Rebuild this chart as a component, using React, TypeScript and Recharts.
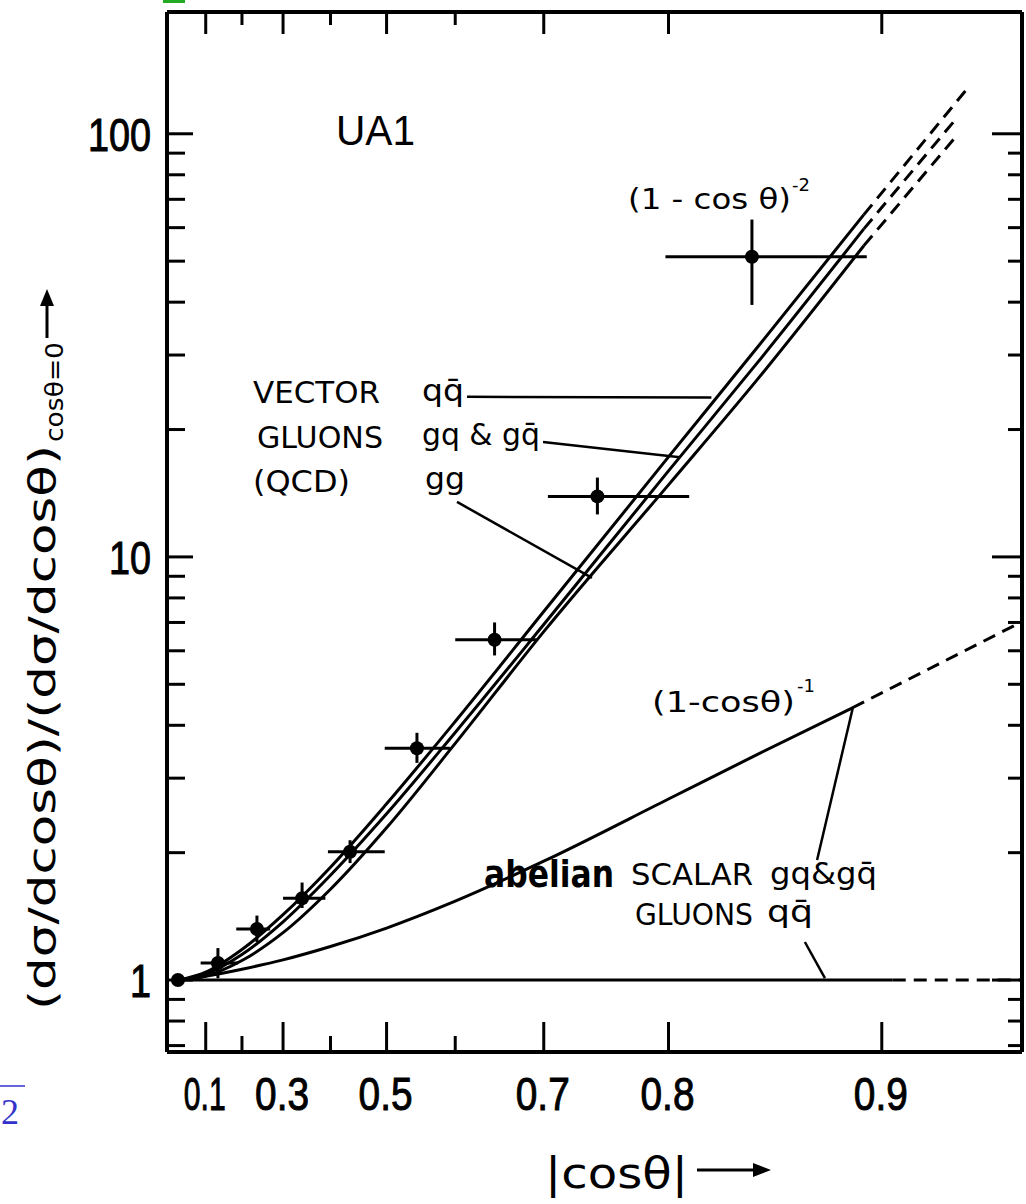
import React from "react";
import {
  ComposedChart,
  ErrorBar,
  Line,
  ReferenceLine,
  Scatter,
  XAxis,
  YAxis,
} from "recharts";

// |cos θ| axis (plotted on a log scale of 1/(1-cos θ))
const cosTicks = [0.1, 0.2, 0.3, 0.4, 0.5, 0.6, 0.7, 0.8, 0.9];
const cosTickLabels = ["0.1", "", "0.3", "", "0.5", "", "0.7", "0.8", "0.9"];
const cosDomain = [-0.0207, 0.9366];

// ratio axis
const yTicks = [0.7, 0.8, 0.9, 1, 2, 3, 4, 5, 6, 7, 8, 9, 10, 20, 30, 40, 50, 60, 70, 80, 90, 100];
const yMajor = [1, 10, 100];
const yDomain = [0.676, 194];

// vector gluons (QCD) curves
const qcdCos = [0.02, 0.1, 0.2, 0.3, 0.4, 0.5, 0.6, 0.7, 0.8, 0.85, 0.894];
const qcdQQ = [1.0, 1.044, 1.181, 1.427, 1.848, 2.609, 4.084, 7.43, 17.23, 31.2, 64.4];
const qcdGQ = [1.0, 1.033, 1.149, 1.373, 1.769, 2.471, 3.847, 6.92, 15.97, 28.7, 59.6];
const qcdGG = [1.0, 1.022, 1.112, 1.294, 1.639, 2.29, 3.624, 6.66, 14.8, 26.2, 54.4];
const qcdQQDash = [[0.894, 64.4], [0.924, 127]];
const qcdGQDash = [[0.894, 59.6], [0.922, 110]];
const qcdGGDash = [[0.894, 54.4], [0.922, 100]];

// abelian scalar gluons
const scalarCos = [0.02, 0.1, 0.2, 0.3, 0.4, 0.5, 0.6, 0.7, 0.8, 0.85, 0.89];
const scalarGQ = [1.0, 1.021, 1.061, 1.116, 1.2, 1.327, 1.536, 1.909, 2.678, 3.41, 4.4];
const scalarGQDash = [[0.89, 4.4], [0.9366, 7.03]];
const scalarQQ = [[0.02, 1.0], [0.9035, 1.0]];
const scalarQQDash = [[0.9035, 1.0], [0.9366, 1.0]];

// UA1 data
const ptCos = [0.015, 0.135, 0.238, 0.342, 0.437, 0.547, 0.648, 0.748, 0.8475];
const ptCosLo = [0.015, 0.085, 0.185, 0.3, 0.395, 0.497, 0.6, 0.704, 0.798];
const ptCosHi = [0.015, 0.19, 0.27, 0.39, 0.497, 0.593, 0.693, 0.813, 0.895];
const ptVal = [1.0, 1.097, 1.32, 1.56, 2.01, 3.53, 6.37, 13.9, 51.2];
const ptValLo = [1.0, 1.01, 1.23, 1.48, 1.89, 3.26, 5.85, 12.6, 39.4];
const ptValHi = [1.0, 1.19, 1.42, 1.7, 2.14, 3.84, 7.0, 15.4, 62.7];

const toX = (c: number) => 1 / (1 - c);
const xTicks = cosTicks.map(toX);
const xDomain = cosDomain.map(toX);

const curve = (cs: number[], vs: number[]) => cs.map((c, i) => ({ x: toX(c), y: vs[i] }));
const pairs = (p: number[][]) => p.map(([c, v]) => ({ x: toX(c), y: v }));

const points = ptCos.map((c, i) => ({
  x: toX(c),
  y: ptVal[i],
  ex: [toX(c) - toX(ptCosLo[i]), toX(ptCosHi[i]) - toX(c)],
  ey: [ptVal[i] - ptValLo[i], ptValHi[i] - ptVal[i]],
}));

const near = (a: number, b: number) => Math.abs(a - b) < 1e-6 * Math.max(1, Math.abs(b));
const SANS = "Liberation Sans, Arial, sans-serif";
const LBL = "DejaVu Sans, sans-serif";

function BottomTick(props: any) {
  const { x, y, payload } = props;
  const i = xTicks.findIndex((t) => near(t, payload.value));
  const label = cosTickLabels[i] ?? "";
  return (
    <g>
      <line x1={x} x2={x} y1={y} y2={y - (label ? 30 : 16)} stroke="#000" strokeWidth={3} />
      {label && (
        <text
          x={x - 1}
          y={y + 58}
          textAnchor="middle"
          fontFamily={SANS}
          fontSize={47}
          textLength={label === "0.1" ? 42 : 54}
          lengthAdjust="spacingAndGlyphs"
          fill="#000"
          stroke="#000"
          strokeWidth={1}
        >
          {label}
        </text>
      )}
    </g>
  );
}

function TopTick(props: any) {
  const { x, y, payload } = props;
  const i = xTicks.findIndex((t) => near(t, payload.value));
  const len = cosTickLabels[i] ? 22 : 13;
  return <line x1={x} x2={x} y1={y} y2={y + len} stroke="#000" strokeWidth={3} />;
}

function LeftTick(props: any) {
  const { x, y, payload } = props;
  const major = yMajor.some((m) => near(m, payload.value));
  const label = String(payload.value);
  return (
    <g>
      <line x1={x} x2={x + (major ? 26 : 18)} y1={y} y2={y} stroke="#000" strokeWidth={3} />
      {major && (
        <text
          x={x - 16}
          y={y + 17}
          textAnchor="end"
          fontFamily={SANS}
          fontSize={46}
          textLength={label.length * 21}
          lengthAdjust="spacingAndGlyphs"
          fill="#000"
          stroke="#000"
          strokeWidth={1}
        >
          {label}
        </text>
      )}
    </g>
  );
}

function RightTick(props: any) {
  const { x, y, payload } = props;
  const major = yMajor.some((m) => near(m, payload.value));
  return <line x1={x} x2={x - (major ? 30 : 14)} y1={y} y2={y} stroke="#000" strokeWidth={3} />;
}

const renderPoint = (p: any) => <circle cx={p.cx} cy={p.cy} r={7} fill="#000" />;

const seg = (c1: number, v1: number, c2: number, v2: number) => [
  { x: toX(c1), y: v1 },
  { x: toX(c2), y: v2 },
];

const lineStyle = { stroke: "#000", strokeWidth: 3, dot: false, isAnimationActive: false } as const;
const dash = "13 8";
const frame = { stroke: "#000", strokeWidth: 4 };

export default function App() {
  return (
    <div style={{ position: "absolute", left: 0, top: 0, width: 1026, height: 1204, background: "#fff" }}>
      <ComposedChart width={1026} height={1204} margin={{ top: 2, right: 0, bottom: 142, left: 157 }}>
        <XAxis
          dataKey="x"
          type="number"
          scale="log"
          domain={xDomain}
          allowDataOverflow
          ticks={xTicks}
          interval={0}
          height={10}
          tickSize={0}
          tickMargin={0}
          tickLine={false}
          axisLine={frame}
          tick={<BottomTick />}
        />
        <XAxis
          xAxisId="top"
          orientation="top"
          dataKey="x"
          type="number"
          scale="log"
          domain={xDomain}
          allowDataOverflow
          ticks={xTicks}
          interval={0}
          height={10}
          tickSize={0}
          tickMargin={0}
          tickLine={false}
          axisLine={frame}
          tick={<TopTick />}
        />
        <YAxis
          dataKey="y"
          type="number"
          scale="log"
          domain={yDomain}
          allowDataOverflow
          ticks={yTicks}
          interval={0}
          width={10}
          tickSize={0}
          tickMargin={0}
          tickLine={false}
          axisLine={frame}
          tick={<LeftTick />}
        />
        <YAxis
          yAxisId="right"
          orientation="right"
          dataKey="y"
          type="number"
          scale="log"
          domain={yDomain}
          allowDataOverflow
          ticks={yTicks}
          interval={0}
          width={4}
          tickSize={0}
          tickMargin={0}
          tickLine={false}
          axisLine={frame}
          tick={<RightTick />}
        />

        <Line data={curve(qcdCos, qcdQQ)} dataKey="y" type="monotone" {...lineStyle} />
        <Line data={curve(qcdCos, qcdGQ)} dataKey="y" type="monotone" {...lineStyle} />
        <Line data={curve(qcdCos, qcdGG)} dataKey="y" type="monotone" {...lineStyle} />
        <Line data={pairs(qcdQQDash)} dataKey="y" strokeDasharray={dash} {...lineStyle} />
        <Line data={pairs(qcdGQDash)} dataKey="y" strokeDasharray={dash} {...lineStyle} />
        <Line data={pairs(qcdGGDash)} dataKey="y" strokeDasharray={dash} {...lineStyle} />

        <Line data={curve(scalarCos, scalarGQ)} dataKey="y" type="monotone" {...lineStyle} />
        <Line data={pairs(scalarGQDash)} dataKey="y" strokeDasharray={dash} {...lineStyle} />
        <Line data={pairs(scalarQQ)} dataKey="y" {...lineStyle} />
        <Line data={pairs(scalarQQDash)} dataKey="y" strokeDasharray={dash} {...lineStyle} />

        {/* leader lines from the labels to the curves */}
        <ReferenceLine segment={seg(0.615, 23.9, 0.826, 23.8)} stroke="#000" strokeWidth={2.5} ifOverflow="visible" />
        <ReferenceLine segment={seg(0.6993, 18.7, 0.8073, 17.2)} stroke="#000" strokeWidth={2.5} ifOverflow="visible" />
        <ReferenceLine segment={seg(0.6023, 13.49, 0.7435, 8.92)} stroke="#000" strokeWidth={2.5} ifOverflow="visible" />
        <ReferenceLine segment={seg(0.8902, 4.42, 0.8766, 1.921)} stroke="#000" strokeWidth={2.5} ifOverflow="visible" />
        <ReferenceLine segment={seg(0.8716, 1.23, 0.8797, 1.011)} stroke="#000" strokeWidth={2.5} ifOverflow="visible" />

        <Scatter data={points} dataKey="y" shape={renderPoint} isAnimationActive={false}>
          <ErrorBar dataKey="ex" direction="x" width={0} stroke="#000" strokeWidth={3} isAnimationActive={false} />
          <ErrorBar dataKey="ey" direction="y" width={0} stroke="#000" strokeWidth={3} isAnimationActive={false} />
        </Scatter>
      </ComposedChart>

      <svg
        width={1026}
        height={1204}
        style={{ position: "absolute", left: 0, top: 0, pointerEvents: "none" }}
      >
        <rect x={163} y={0} width={22} height={3} fill="#22aa22" />
        <line x1={0} x2={25} y1={1086} y2={1086} stroke="#3333cc" strokeWidth={1.5} />
        <text x={1} y={1124} fontFamily="Liberation Serif, serif" fontSize={36} fill="#3333cc">2</text>

        <text x={336} y={145} fontFamily={SANS} fontSize={42} textLength={79} lengthAdjust="spacingAndGlyphs">UA1</text>

        <text x={628} y={209} fontFamily={LBL} fontSize={28} textLength={163} lengthAdjust="spacingAndGlyphs">(1 - cos θ)</text>
        <text x={792} y={191} fontFamily={LBL} fontSize={18}>-2</text>

        <text x={253} y={403} fontFamily={LBL} fontSize={30} textLength={127} lengthAdjust="spacingAndGlyphs">VECTOR</text>
        <text x={422} y={401} fontFamily={LBL} fontSize={31} textLength={42} lengthAdjust="spacingAndGlyphs">qq̄</text>
        <text x={257} y={448} fontFamily={LBL} fontSize={30} textLength={126} lengthAdjust="spacingAndGlyphs">GLUONS</text>
        <text x={422} y={445} fontFamily={LBL} fontSize={31} textLength={118} lengthAdjust="spacingAndGlyphs">gq &amp; gq̄</text>
        <text x={253} y={492} fontFamily={LBL} fontSize={30} textLength={97} lengthAdjust="spacingAndGlyphs">(QCD)</text>
        <text x={425} y={489} fontFamily={LBL} fontSize={31} textLength={40} lengthAdjust="spacingAndGlyphs">gg</text>

        <text x={652} y={712} fontFamily={LBL} fontSize={28} textLength={143} lengthAdjust="spacingAndGlyphs">(1-cosθ)</text>
        <text x={797} y={692} fontFamily={LBL} fontSize={18}>-1</text>

        <text x={484} y={887} fontFamily={LBL} fontWeight="bold" fontSize={38} textLength={130} lengthAdjust="spacingAndGlyphs">abelian</text>
        <text x={631} y={885} fontFamily={LBL} fontSize={30} textLength={122} lengthAdjust="spacingAndGlyphs">SCALAR</text>
        <text x={770} y={884} fontFamily={LBL} fontSize={30} textLength={107} lengthAdjust="spacingAndGlyphs">gq&amp;gq̄</text>
        <text x={635} y={925} fontFamily={LBL} fontSize={30} textLength={118} lengthAdjust="spacingAndGlyphs">GLUONS</text>
        <text x={767} y={922} fontFamily={LBL} fontSize={31} textLength={46} lengthAdjust="spacingAndGlyphs">qq̄</text>

        {/* axis titles */}
        <g transform="translate(55,1010) rotate(-90)">
          <text x={0} y={0} fontFamily={LBL} fontSize={38} textLength={565} lengthAdjust="spacingAndGlyphs">(dσ/dcosθ)/(dσ/dcosθ)</text>
          <text x={568} y={8} fontFamily={LBL} fontSize={24} textLength={100} lengthAdjust="spacingAndGlyphs">cosθ=0</text>
        </g>
        <line x1={47} x2={47} y1={338} y2={300} stroke="#000" strokeWidth={3} />
        <polygon points="47,289 40,306 54,306" fill="#000" />

        <text x={545} y={1188} fontFamily={LBL} fontSize={42} textLength={143} lengthAdjust="spacingAndGlyphs">|cosθ|</text>
        <line x1={697} x2={758} y1={1170} y2={1170} stroke="#000" strokeWidth={3} />
        <polygon points="771,1170 753,1163 753,1177" fill="#000" />
      </svg>
    </div>
  );
}
